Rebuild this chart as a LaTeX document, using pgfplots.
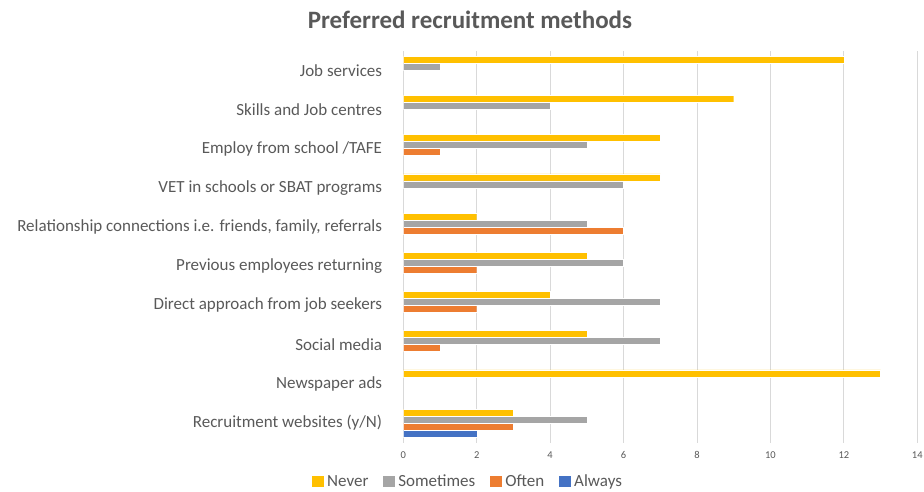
\documentclass[border=0pt]{standalone}
\usepackage{pgfplots}
\pgfplotsset{compat=1.18}
\usepackage{fontspec}
\setmainfont{Carlito}
\definecolor{cNever}{HTML}{FFC000}
\definecolor{cSome}{HTML}{A5A5A5}
\definecolor{cOften}{HTML}{ED7D31}
\definecolor{cAlways}{HTML}{4472C4}
\definecolor{txt}{HTML}{595959}
\definecolor{gridc}{HTML}{D9D9D9}
\begin{document}
\begin{tikzpicture}
\useasboundingbox (-403.3bp,-49.4bp) rectangle (520.7bp,442.6bp);
\begin{axis}[
  at={(0,0)}, anchor=south west,
  scale only axis,
  width=514bp, height=392bp,
  xmin=0, xmax=14,
  ymin=-0.5, ymax=9.5,
  xtick={0,2,...,14},
  ytick={0,...,9},
  yticklabels={{Recruitment websites (y/N)},{Newspaper ads},{Social media},{Direct approach from job seekers},{Previous employees returning},{Relationship connections i.e. friends, family, referrals},{VET in schools or SBAT programs},{Employ from school /TAFE},{Skills and Job centres},{Job services}},
  major tick length=0pt,
  axis line style={draw=none},
  xmajorgrids,
  grid style={gridc, line width=0.8bp},
  /pgf/number format/assume math mode=true,
  yticklabel style={font=\fontsize{17bp}{20bp}\selectfont, text=txt, inner sep=0pt, xshift=-21bp},
  xticklabel style={font=\fontsize{10.5bp}{12bp}\selectfont, text=txt, inner sep=0pt, yshift=-9bp},
  xbar, bar width=0.178,
  every axis plot/.append style={draw=white, line width=0.4bp},
  legend style={at={(0.125,-0.1)}, anchor=center, draw=none, legend columns=4,
    font=\fontsize{17bp}{20bp}\selectfont, text=txt,
    nodes={inner sep=1bp},
    /tikz/every odd column/.append style={column sep=2bp},
    /tikz/every even column/.append style={column sep=14bp}},
  legend image code/.code={\fill[#1, draw=none] (0bp,-5.5bp) rectangle (12bp,5.5bp);},
]
\addplot[fill=cNever, bar shift=0.267] coordinates {(12,9) (9,8) (7,7) (7,6) (2,5) (5,4) (4,3) (5,2) (13,1) (3,0)};
\addplot[fill=cSome, bar shift=0.089] coordinates {(1,9) (4,8) (5,7) (6,6) (5,5) (6,4) (7,3) (7,2) (5,0)};
\addplot[fill=cOften, bar shift=-0.089] coordinates {(1,7) (6,5) (2,4) (2,3) (1,2) (3,0)};
\addplot[fill=cAlways, bar shift=-0.267] coordinates {(2,0)};
\legend{Never,Sometimes,Often,Always}
\end{axis}
\node[font=\fontsize{25bp}{30bp}\selectfont\bfseries, text=txt] at (66.7bp,422.6bp) {Preferred recruitment methods};
\end{tikzpicture}
\end{document}
